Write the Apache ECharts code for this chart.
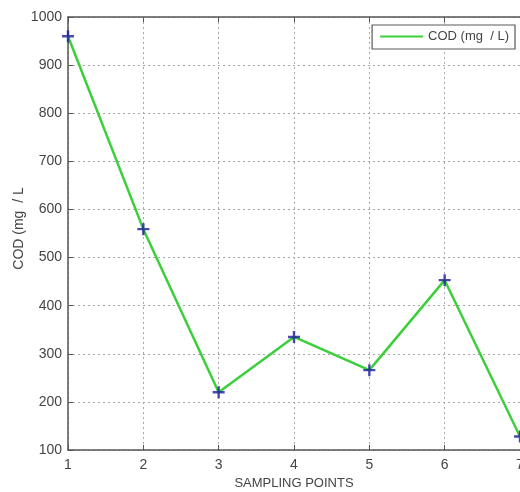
<!DOCTYPE html>
<html>
<head>
<meta charset="utf-8">
<script src="https://cdn.jsdelivr.net/npm/echarts@6/dist/echarts.min.js"></script>
<style>
  html, body { margin: 0; padding: 0; background: #fff; }
  #chart { width: 520px; height: 492px; }
</style>
</head>
<body>
<div id="chart"></div>
<script>
// Sampling points along the stream and the measured COD at each one
const samplingPoints = [1, 2, 3, 4, 5, 6, 7];
const codValues = [960, 559, 220, 335, 266, 453, 128];
const seriesName = 'COD (mg  / L)';
const xTitle = 'SAMPLING POINTS';
const yTitle = 'COD (mg  / L';

const FONT = '"Liberation Sans", Arial, sans-serif';
const TEXT = '#454545';
const AXIS = '#555555';

const chart = echarts.init(document.getElementById('chart'), null, { renderer: 'canvas' });

const gridLine = { show: true, lineStyle: { color: '#a8a8a8', type: [2, 3], width: 1 } };
const tickIn = { show: true, inside: true, length: 5, lineStyle: { color: AXIS, width: 1 } };
const crossMark = 'path://M4,0H6V4H10V6H6V10H4V6H0V4H4Z';

chart.setOption({
  animation: false,
  backgroundColor: '#ffffff',
  grid: { left: 68, right: 0, top: 17, bottom: 42, containLabel: false, outerBoundsMode: 'none' },
  legend: {
    right: 5,
    top: 25,
    orient: 'horizontal',
    data: [{ name: seriesName, icon: 'rect' }],
    itemWidth: 43,
    itemHeight: 2,
    itemGap: 8,
    backgroundColor: '#ffffff',
    borderColor: '#5a5a5a',
    borderWidth: 1.2,
    borderRadius: 0,
    padding: [5, 6, 6, 8],
    textStyle: { fontFamily: FONT, fontSize: 13, color: TEXT }
  },
  xAxis: [
    {
      type: 'value',
      min: 1,
      max: 7,
      interval: 1,
      name: xTitle,
      nameLocation: 'middle',
      nameGap: 27,
      nameMoveOverlap: false,
      nameTextStyle: { fontFamily: FONT, fontSize: 13, color: TEXT },
      axisLine: { show: true, onZero: false, lineStyle: { color: AXIS, width: 1.5 } },
      axisTick: tickIn,
      axisLabel: { fontFamily: FONT, fontSize: 14, color: TEXT, margin: 8, formatter: v => String(v) },
      splitLine: gridLine
    },
    {
      type: 'value',
      position: 'top',
      min: 1,
      max: 7,
      interval: 1,
      axisLine: { show: true, onZero: false, lineStyle: { color: AXIS, width: 1.5 } },
      axisTick: tickIn,
      axisLabel: { show: false },
      splitLine: { show: false }
    }
  ],
  yAxis: {
    type: 'value',
    min: 100,
    max: 1000,
    interval: 100,
    name: yTitle,
    nameLocation: 'middle',
    nameRotate: 90,
    nameGap: 42,
    nameMoveOverlap: false,
    nameTextStyle: { fontFamily: FONT, fontSize: 14, color: TEXT, padding: [0, 0, 0, 10] },
    axisLine: { show: true, onZero: false, lineStyle: { color: AXIS, width: 1.5 } },
    axisTick: tickIn,
    axisLabel: { fontFamily: FONT, fontSize: 14, color: TEXT, margin: 6, formatter: v => String(v) },
    splitLine: gridLine
  },
  series: [
    {
      name: seriesName,
      type: 'line',
      data: samplingPoints.map((x, i) => [x, codValues[i]]),
      lineStyle: { color: '#3ccf3c', width: 2.5 },
      itemStyle: { color: '#3ccf3c' },
      showSymbol: false,
      symbol: 'none',
      clip: false,
      emphasis: { disabled: true }
    },
    {
      // blue cross markers drawn over the green line
      type: 'scatter',
      data: samplingPoints.map((x, i) => [x, codValues[i]]),
      symbol: crossMark,
      symbolSize: 12,
      itemStyle: { color: '#1c1c9a' },
      z: 5,
      clip: false,
      silent: true
    }
  ]
});
</script>
</body>
</html>
